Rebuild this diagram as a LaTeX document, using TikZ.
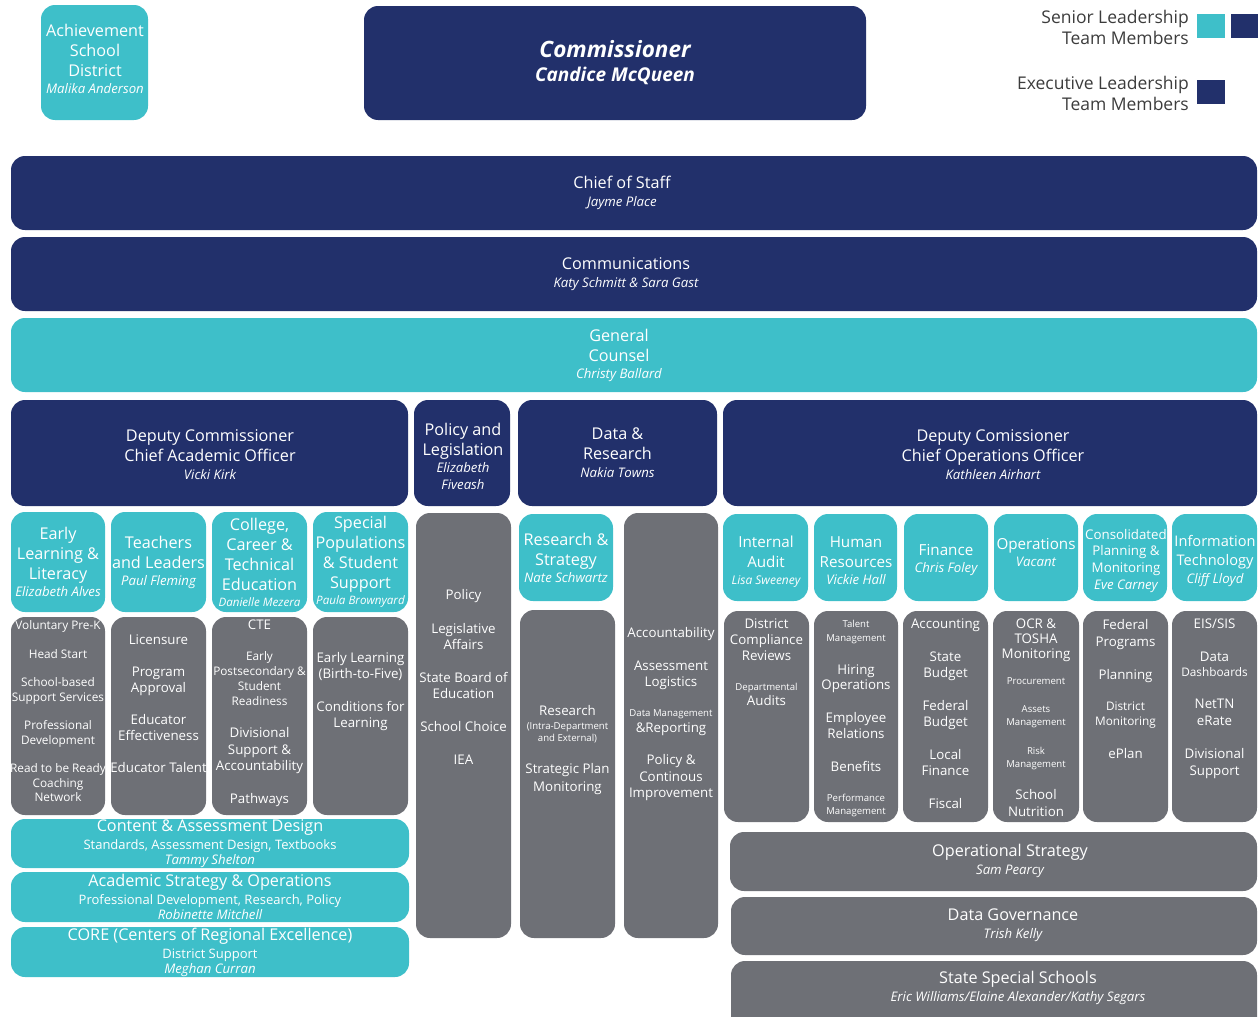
\documentclass[tikz,border=0pt]{standalone}
\usepackage{fontspec}
\setmainfont{Open Sans}
\usetikzlibrary{fit,positioning}
\definecolor{deptnavy}{HTML}{22306B}
\definecolor{deptteal}{HTML}{3EBFC9}
\definecolor{deptgray}{HTML}{6E7076}
\definecolor{legendtext}{HTML}{3C3C3C}
\newcommand{\dhead}{\fontsize{16.2}{20}\selectfont}
\newcommand{\dname}{\fontsize{13.2}{15}\selectfont\itshape}
\newcommand{\dnarrow}{\fontsize{11.6}{14}\selectfont\itshape}
\newcommand{\ditem}{\fontsize{13.3}{16}\selectfont}
\newcommand{\dsmall}{\fontsize{11.8}{14.5}\selectfont}
\newcommand{\dtiny}{\fontsize{9.6}{12}\selectfont}
\newcommand{\dline}{\fontsize{13}{15}\selectfont}

\begin{document}
\begin{tikzpicture}[x=1pt, y=-1pt,
    box/.style={rounded corners=14pt, inner sep=0pt},
    navybox/.style={box, fill=deptnavy},
    tealbox/.style={box, fill=deptteal},
    graybox/.style={box, fill=deptgray},
    label/.style={text=white, align=center, inner sep=0pt, font=\dhead},
    items/.style={text=white, align=center, inner sep=0pt, font=\ditem},
    chip/.style={inner sep=0pt, minimum width=28pt, minimum height=24pt, anchor=north west},
    legend/.style={text=legendtext, align=right, anchor=east, inner sep=0pt, font=\fontsize{17.5}{21}\selectfont}]
    \path[use as bounding box] (0,0) rectangle (1258,1017);
    \clip (0,0) rectangle (1258,1017);
    % top row and legend
    \node[tealbox, fit={(41,5) (148,120)}] (asd) {};
    \node[label] (lasd) at (95,59) {Achievement\\School\\District\\[-3pt]{\dname Malika Anderson}};
    \node[navybox, fit={(364,6) (866,120)}] (comm) {};
    \node[label, font=\fontsize{19}{24}\selectfont\bfseries\itshape] (lcomm) at (comm) {{\fontsize{22.5}{26}\selectfont Commissioner}\\Candice McQueen};
    \node[legend] (senior) at (1189,27) {Senior Leadership\\Team Members};
    \node[chip, fill=deptteal] (chipteal) at (1197,14) {};
    \node[chip, fill=deptnavy] (chipnavy) at (1231,14) {};
    \node[legend] (exec) at (1189,93) {Executive Leadership\\Team Members};
    \node[chip, fill=deptnavy] (chipexec) at (1197,80) {};
    % full width bars
    \node[navybox, fit={(11,156) (1257,230)}] (cos) {};
    \node[label] (lcos) at (622,193) {Chief of Staff\\[-2pt]{\dname Jayme Place}};
    \node[navybox, fit={(11,237) (1257,311)}] (com) {};
    \node[label] (lcom) at (626,274) {Communications\\[-2pt]{\dname Katy Schmitt \& Sara Gast}};
    \node[tealbox, fit={(11,318) (1257,392)}] (gc) {};
    \node[label] (lgc) at (619,355) {General\\Counsel\\[-3pt]{\dname Christy Ballard}};
    % divisions
    \node[navybox, fit={(11,400) (408,506)}] (cao) {};
    \node[label] (lcao) at (210,455) {Deputy Commissioner\\Chief Academic Officer\\[-2pt]{\dname Vicki Kirk}};
    \node[navybox, fit={(414,400) (510,506)}] (pol) {};
    \node[label] (lpol) at (463,456) {Policy and\\Legislation\\[-3pt]{\dname Elizabeth}\\[-3pt]{\dname Fiveash}};
    \node[navybox, fit={(518,400) (717,506)}] (dat) {};
    \node[label] (ldat) at (dat) {Data \&\\Research\\[-2pt]{\dname Nakia Towns}};
    \node[navybox, fit={(723,400) (1257,506)}] (coo) {};
    \node[label] (lcoo) at (993,455) {Deputy Comissioner\\Chief Operations Officer\\[-2pt]{\dname Kathleen Airhart}};
    % academic offices
    \node[tealbox, fit={(11,512) (105,612)}] (el) {};
    \node[label] (lel) at (el) {Early\\Learning \&\\Literacy\\[-3pt]{\dname Elizabeth Alves}};
    \node[tealbox, fit={(111,512) (206,612)}] (tl) {};
    \node[label] (ltl) at (tl) {Teachers\\and Leaders\\[-3pt]{\dname Paul Fleming}};
    \node[tealbox, fit={(212,512) (307,612)}] (cct) {};
    \node[label] (lcct) at (cct) {College,\\Career \&\\Technical\\Education\\[-4pt]{\dnarrow Danielle Mezera}};
    \node[tealbox, fit={(313,512) (408,612)}] (sps) {};
    \node[label] (lsps) at (sps) {Special\\Populations\\\& Student\\Support\\[-4pt]{\dnarrow Paula Brownyard}};
    \node[graybox, fit={(11,617) (105,815)}] (gel) {};
    \node[graybox, fit={(111,617) (206,815)}] (gtl) {};
    \node[graybox, fit={(212,617) (307,815)}] (gcct) {};
    \node[graybox, fit={(313,617) (408,815)}] (gsps) {};
    \node[items, font=\dsmall, below=4pt of gel.north] (tel) {Voluntary Pre-K\\[14pt]Head Start\\[14pt]School-based\\Support Services\\[14pt]Professional\\Development\\[14pt]Read to be Ready\\Coaching\\Network};
    \node[items, below=18pt of gtl.north] (ttl) {Licensure\\[16pt]Program\\Approval\\[16pt]Educator\\Effectiveness\\[16pt]Educator Talent};
    \node[items, below=3pt of gcct.north] (tcct) {CTE\\[15pt]{\dsmall Early}\\[-1pt]{\dsmall Postsecondary \&}\\[-1pt]{\dsmall Student}\\[-1pt]{\dsmall Readiness}\\[16pt]Divisional\\[1pt]Support \&\\Accountability\\[17pt]Pathways};
    \node[items, below=35pt of gsps.north] (tsps) {Early Learning\\(Birth-to-Five)\\[17pt]Conditions for\\Learning};
    \node[tealbox, fit={(11,819) (409,868)}] (cad) {};
    \node[label] (lcad) at (cad) {Content \& Assessment Design\\[-2pt]{\dline Standards, Assessment Design, Textbooks}\\[-5pt]{\dname Tammy Shelton}};
    \node[tealbox, fit={(11,872) (409,922)}] (aso) {};
    \node[label] (laso) at (aso) {Academic Strategy \& Operations\\[-2pt]{\dline Professional Development, Research, Policy}\\[-5pt]{\dname Robinette Mitchell}};
    \node[tealbox, fit={(11,927) (409,977)}] (core) {};
    \node[label] (lcore) at (core) {CORE (Centers of Regional Excellence)\\[-2pt]{\dline District Support}\\[-5pt]{\dname Meghan Curran}};
    % policy and data columns
    \node[graybox, fit={(416,513) (511,938)}] (gpol) {};
    \node[items, below=76pt of gpol.north] (tpol) {Policy\\[18pt]Legislative\\Affairs\\[17pt]State Board of\\Education\\[17pt]School Choice\\[17pt]IEA};
    \node[tealbox, fit={(519,514) (613,601)}] (rs) {};
    \node[label] (lrs) at (rs) {Research \&\\Strategy\\[-3pt]{\dname Nate Schwartz}};
    \node[graybox, fit={(520,610) (615,938)}] (grs) {};
    \node[items, below=95pt of grs.north] (trs) {Research\\[-2pt]{\dtiny (Intra-Department}\\[-4pt]{\dtiny and External)}\\[16pt]Strategic Plan\\[2pt]Monitoring};
    \node[graybox, fit={(624,513) (718,938)}] (gdat) {};
    \node[items, below=114pt of gdat.north] (tdat) {Accountability\\[17pt]Assessment\\Logistics\\[14pt]{\dtiny Data Management}\\\&Reporting\\[16pt]Policy \&\\[1pt]Continous\\Improvement};
    % operations offices
    \node[tealbox, fit={(723,514) (808,601)}] (ia) {};
    \node[label, font=\fontsize{15.2}{20}\selectfont] (lia) at (766,562) {Internal\\Audit\\[-3pt]{\fontsize{12}{14}\selectfont\itshape Lisa Sweeney}};
    \node[tealbox, fit={(814,514) (897,601)}] (hr) {};
    \node[label, font=\fontsize{15.2}{20}\selectfont] (lhr) at (856,561) {Human\\Resources\\[-3pt]{\dname Vickie Hall}};
    \node[tealbox, fit={(904,514) (988,601)}] (fin) {};
    \node[label, font=\fontsize{15.2}{20}\selectfont] (lfin) at (946,560) {Finance\\[-3pt]{\dname Chris Foley}};
    \node[tealbox, fit={(994,514) (1078,601)}] (ops) {};
    \node[label, font=\fontsize{15.2}{20}\selectfont] (lops) at (1036,552) {Operations\\[-3pt]{\dname Vacant}};
    \node[tealbox, fit={(1083,514) (1167,601)}] (cpm) {};
    \node[label, font=\fontsize{13.3}{16.5}\selectfont] (lcpm) at (1126,561) {Consolidated\\Planning \&\\Monitoring\\[0.5pt]{\dname Eve Carney}};
    \node[tealbox, fit={(1172,514) (1257,601)}] (it) {};
    \node[label, font=\fontsize{14.6}{19}\selectfont] (lit) at (1215,561) {Information\\Technology\\[-1pt]{\dname Cliff Lloyd}};
    \node[graybox, fit={(724,611) (809,822)}] (gia) {};
    \node[graybox, fit={(814,611) (898,822)}] (ghr) {};
    \node[graybox, fit={(903,611) (988,822)}] (gfin) {};
    \node[graybox, fit={(993,611) (1079,822)}] (gops) {};
    \node[graybox, fit={(1083,611) (1168,822)}] (gcpm) {};
    \node[graybox, fit={(1172,611) (1257,822)}] (git) {};
    \node[items, below=8pt of gia.north] (tia) {District\\Compliance\\Reviews\\[14pt]{\dtiny Departmental}\\[-1pt]Audits};
    \node[items, below=9pt of ghr.north] (thr) {{\dtiny Talent}\\[-2pt]{\dtiny Management}\\[17pt]Hiring\\[-1pt]Operations\\[17pt]Employee\\Relations\\[17pt]Benefits\\[14pt]{\dtiny Performance}\\[-3pt]{\dtiny Management}};
    \node[items, below=8pt of gfin.north] (tfin) {Accounting\\[17pt]State\\Budget\\[17pt]Federal\\Budget\\[17pt]Local\\Finance\\[17pt]Fiscal};
    \node[items, below=8pt of gops.north] (tops) {OCR \&\\[-1pt]TOSHA\\[-1pt]Monitoring\\[10pt]{\dtiny Procurement}\\[12pt]{\dtiny Assets}\\[-3pt]{\dtiny Management}\\[13pt]{\dtiny Risk}\\[-3pt]{\dtiny Management}\\[16pt]School\\[1pt]Nutrition};
    \node[items, below=8pt of gcpm.north] (tcpm) {Federal\\[1pt]Programs\\[17pt]Planning\\[15pt]{\dsmall District}\\[-1pt]{\dsmall Monitoring}\\[17pt]ePlan};
    \node[items, below=8pt of git.north] (tit) {EIS/SIS\\[17pt]Data\\[-1pt]{\dsmall Dashboards}\\[16pt]NetTN\\[1pt]eRate\\[17pt]Divisional\\[1pt]Support};
    % operations bars
    \node[graybox, fit={(730,832) (1257,891)}] (ost) {};
    \node[label] (lost) at (1010,861) {Operational Strategy\\[-2pt]{\dname Sam Pearcy}};
    \node[graybox, fit={(731,897) (1257,955)}] (dgov) {};
    \node[label] (ldgov) at (1013,925) {Data Governance\\[-2pt]{\dname Trish Kelly}};
    \node[graybox, fit={(731,961) (1257,1035)}] (sss) {};
    \node[label] (lsss) at (1018,988) {State Special Schools\\[-2pt]{\dname Eric Williams/Elaine Alexander/Kathy Segars}};
\end{tikzpicture}
\end{document}
